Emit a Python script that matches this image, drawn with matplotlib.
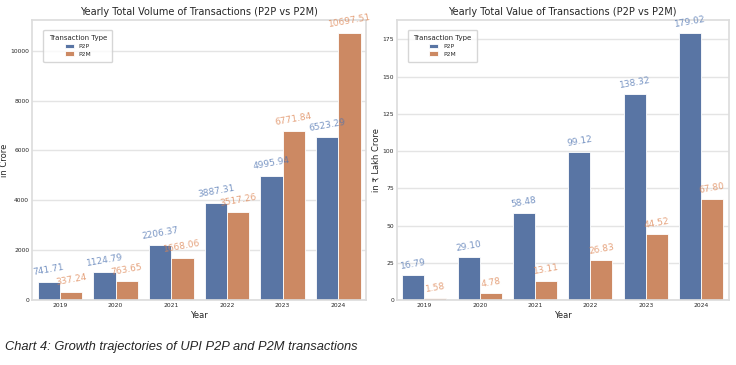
import matplotlib
matplotlib.use("Agg")
import matplotlib.pyplot as plt
import seaborn as sns
import pandas as pd

years = ["2019", "2020", "2021", "2022", "2023", "2024"]
p2p_volume = [741.71, 1124.79, 2206.37, 3887.31, 4995.94, 6523.29]
p2m_volume = [337.24, 763.65, 1668.06, 3517.26, 6771.84, 10697.51]
p2p_value = [16.79, 29.10, 58.48, 99.12, 138.32, 179.02]
p2m_value = [1.58, 4.78, 13.11, 26.83, 44.52, 67.80]

sns.set_theme(style="whitegrid", rc={"grid.color": "#e4e4e4", "axes.edgecolor": "#dddddd"})
plt.rcParams['font.family'] = ['DejaVu Sans']
colors = sns.color_palette("deep")[:2]


def make_df(p2p, p2m):
    return pd.DataFrame({
        "Year": years * 2,
        "Value": p2p + p2m,
        "Transaction Type": ["P2P"] * len(years) + ["P2M"] * len(years),
    })


fig = plt.figure(figsize=(7.36, 3.65), dpi=100)
ax1 = fig.add_axes([0.0435, 0.178, 0.454, 0.767])
ax2 = fig.add_axes([0.539, 0.178, 0.451, 0.767])

for ax, p2p, p2m, title, ylab in [
    (ax1, p2p_volume, p2m_volume, "Yearly Total Volume of Transactions (P2P vs P2M)", "in Crore"),
    (ax2, p2p_value, p2m_value, "Yearly Total Value of Transactions (P2P vs P2M)", "in \u20b9 Lakh Crore"),
]:
    df = make_df(p2p, p2m)
    sns.barplot(data=df, x="Year", y="Value", hue="Transaction Type",
                palette=colors, ax=ax, saturation=0.75, linewidth=0.6)
    for cont, col in zip(ax.containers, colors):
        for bar in cont:
            h = bar.get_height()
            ax.annotate("%.2f" % h, (bar.get_x() + bar.get_width() / 2, h),
                        xytext=(0, 3), textcoords="offset points",
                        ha="center", va="bottom", rotation=10,
                        fontsize=6.5, color=col, alpha=0.75)
    ax.set_title(title, fontsize=7, pad=4)
    ax.set_xlabel("Year", fontsize=6, labelpad=2)
    ax.set_ylabel(ylab, fontsize=6, labelpad=1)
    ax.tick_params(axis="both", labelsize=4.3, pad=2, length=0)
    leg = ax.legend(title="Transaction Type", loc="upper left", fontsize=4.3,
                    title_fontsize=5, borderpad=0.9, handlelength=1.5,
                    labelspacing=0.4, bbox_to_anchor=(0.025, 0.975))

fig.text(0.007, 0.049, "Chart 4: Growth trajectories of UPI P2P and P2M transactions",
         fontsize=9.3, style="italic", family="Liberation Sans", va="center")

fig.savefig("out.png", dpi=100)
